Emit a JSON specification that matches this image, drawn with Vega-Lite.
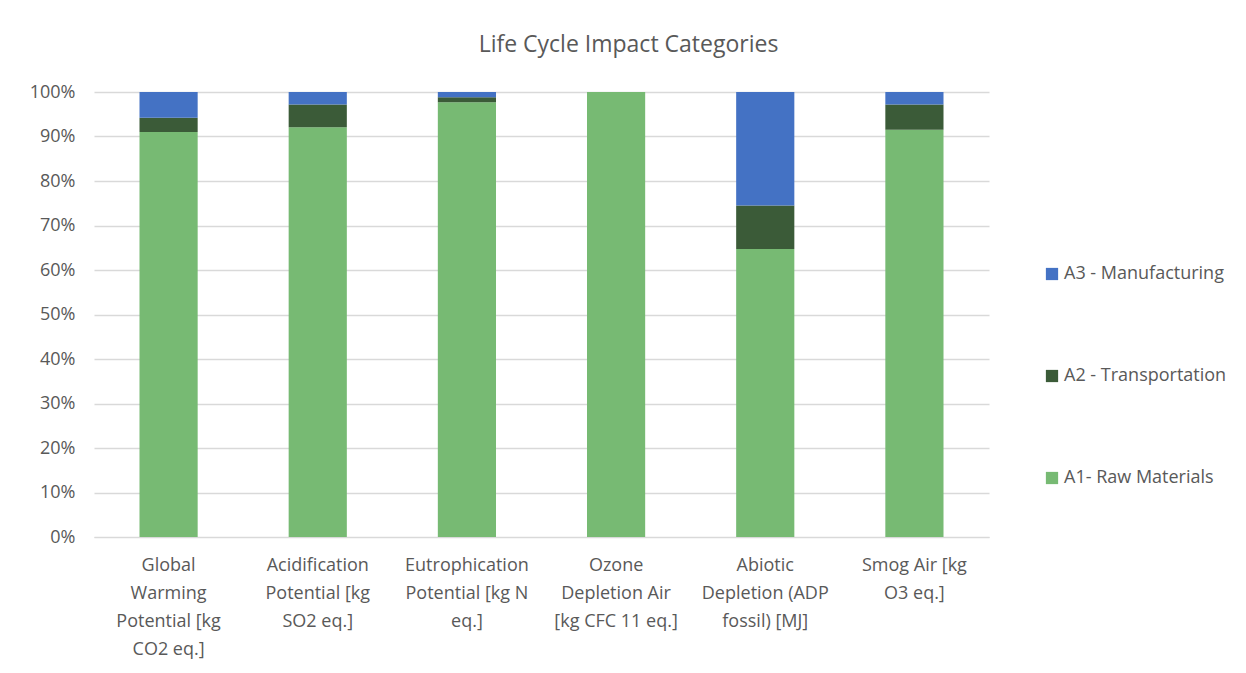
{
  "$schema": "https://vega.github.io/schema/vega-lite/v6.json",
  "autosize": {"type": "none"},
  "width": 895,
  "height": 445,
  "padding": {"left": 94, "top": 92, "right": 257, "bottom": 136},
  "background": "white",
  "config": {
    "font": "Open Sans",
    "view": {"stroke": null},
    "axis": {"labelColor": "#595959", "labelFont": "Open Sans", "labelFontSize": 18, "gridColor": "#D9D9D9", "domainColor": "#D9D9D9"}
  },
  "title": {"text": "Life Cycle Impact Categories", "fontSize": 23, "font": "Open Sans", "fontWeight": "normal", "color": "#595959", "anchor": "middle", "frame": "group", "dx": 87, "offset": 26},
  "data": {
    "values": [
      {"category": "Global|Warming|Potential [kg|CO2 eq.]", "stage": "A1- Raw Materials", "ord": 1, "share": 0.910},
      {"category": "Global|Warming|Potential [kg|CO2 eq.]", "stage": "A2 - Transportation", "ord": 2, "share": 0.032},
      {"category": "Global|Warming|Potential [kg|CO2 eq.]", "stage": "A3 - Manufacturing", "ord": 3, "share": 0.058},
      {"category": "Acidification|Potential [kg|SO2 eq.]", "stage": "A1- Raw Materials", "ord": 1, "share": 0.921},
      {"category": "Acidification|Potential [kg|SO2 eq.]", "stage": "A2 - Transportation", "ord": 2, "share": 0.051},
      {"category": "Acidification|Potential [kg|SO2 eq.]", "stage": "A3 - Manufacturing", "ord": 3, "share": 0.028},
      {"category": "Eutrophication|Potential [kg N|eq.]", "stage": "A1- Raw Materials", "ord": 1, "share": 0.977},
      {"category": "Eutrophication|Potential [kg N|eq.]", "stage": "A2 - Transportation", "ord": 2, "share": 0.011},
      {"category": "Eutrophication|Potential [kg N|eq.]", "stage": "A3 - Manufacturing", "ord": 3, "share": 0.012},
      {"category": "Ozone|Depletion Air|[kg CFC 11 eq.]", "stage": "A1- Raw Materials", "ord": 1, "share": 1.0},
      {"category": "Ozone|Depletion Air|[kg CFC 11 eq.]", "stage": "A2 - Transportation", "ord": 2, "share": 0.0},
      {"category": "Ozone|Depletion Air|[kg CFC 11 eq.]", "stage": "A3 - Manufacturing", "ord": 3, "share": 0.0},
      {"category": "Abiotic|Depletion (ADP|fossil) [MJ]", "stage": "A1- Raw Materials", "ord": 1, "share": 0.647},
      {"category": "Abiotic|Depletion (ADP|fossil) [MJ]", "stage": "A2 - Transportation", "ord": 2, "share": 0.098},
      {"category": "Abiotic|Depletion (ADP|fossil) [MJ]", "stage": "A3 - Manufacturing", "ord": 3, "share": 0.255},
      {"category": "Smog Air [kg|O3 eq.]", "stage": "A1- Raw Materials", "ord": 1, "share": 0.915},
      {"category": "Smog Air [kg|O3 eq.]", "stage": "A2 - Transportation", "ord": 2, "share": 0.057},
      {"category": "Smog Air [kg|O3 eq.]", "stage": "A3 - Manufacturing", "ord": 3, "share": 0.028}
    ]
  },
  "mark": {"type": "bar"},
  "encoding": {
    "x": {
      "field": "category", "type": "nominal", "sort": null,
      "scale": {"paddingInner": 0.61, "paddingOuter": 0.305},
      "axis": {"title": null, "labelAngle": 0, "labelExpr": "split(datum.label, '|')", "labelLineHeight": 28, "labelPadding": 28, "ticks": false, "domain": true, "labelLimit": 200, "labelBaseline": "middle"}
    },
    "y": {
      "field": "share", "type": "quantitative", "stack": "zero",
      "scale": {"domain": [0, 1]},
      "axis": {"title": null, "format": ".0%", "values": [0, 0.1, 0.2, 0.3, 0.4, 0.5, 0.6, 0.7, 0.8, 0.9, 1.0], "domain": false, "ticks": false, "labelPadding": 19, "gridWidth": 1.3}
    },
    "order": {"field": "ord", "type": "quantitative", "sort": "ascending"},
    "color": {
      "field": "stage", "type": "nominal",
      "scale": {"domain": ["A3 - Manufacturing", "A2 - Transportation", "A1- Raw Materials"], "range": ["#4472C4", "#3B5B38", "#77BA73"]},
      "legend": {"title": null, "orient": "none", "legendX": 949, "legendY": 173, "symbolType": "square", "symbolSize": 150, "labelFontSize": 18, "labelColor": "#595959", "labelFont": "Open Sans", "labelLimit": 260, "rowPadding": 84, "labelOffset": 3, "symbolStrokeWidth": 0}
    }
  }
}
